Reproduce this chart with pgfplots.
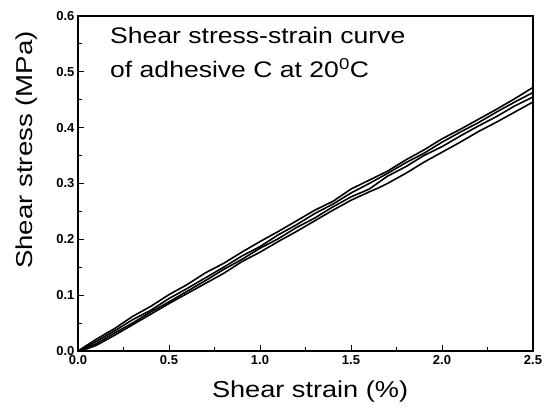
\documentclass[border=0pt]{standalone}
\usepackage{graphicx}
\usepackage{pgfplots}
\pgfplotsset{compat=1.18}
\usepackage{fontspec}
\setmainfont{Liberation Sans}
\begin{document}
\begin{tikzpicture}
\begin{axis}[
  name=ax,
  scale only axis,
  width=455pt, height=335pt,
  xmin=0, xmax=2.5, ymin=0, ymax=0.6,
  xtick={0,0.5,...,2.5}, ytick={0,0.1,...,0.6},
  minor xtick={0.25,0.75,...,2.25}, minor ytick={0.05,0.15,...,0.55},
  xtick pos=left, ytick pos=left,
  tick align=inside,
  major tick length=6pt, minor tick length=4pt,
  every tick/.style={black, line width=1pt},
  axis line style={line width=1.6pt},
  /pgf/number format/assume math mode=true,
  /pgf/number format/fixed, /pgf/number format/fixed zerofill, /pgf/number format/precision=1,
  tick label style={font=\bfseries\fontsize{13}{15}\selectfont},
  xticklabel style={yshift=-1pt},
  xlabel={\scalebox{1.18}[1]{Shear strain (\%)}}, ylabel={\scalebox{1.2}[1]{Shear stress (MPa)}},
  label style={font=\fontsize{23}{27}\selectfont},
  xlabel style={at={(axis description cs:0.51,-0.12)}, anchor=center},
  ylabel style={at={(axis description cs:-0.112,0.6)}, anchor=center},
  cycle list={{black, no markers}},
  every axis plot post/.append style={line width=1.6pt, line join=round},
]
\addplot coordinates {(0,0) (0.1,0.021) (0.2,0.040) (0.3,0.062) (0.4,0.080) (0.5,0.101) (0.6,0.119) (0.7,0.140) (0.8,0.157) (0.9,0.177) (1.0,0.196) (1.1,0.214) (1.2,0.233) (1.3,0.252) (1.4,0.268) (1.5,0.290) (1.6,0.306) (1.7,0.322) (1.8,0.342) (1.9,0.360) (2.0,0.380) (2.1,0.397) (2.2,0.415) (2.3,0.433) (2.4,0.452) (2.5,0.472)};
\addplot coordinates {(0,0) (0.1,0.017) (0.2,0.036) (0.3,0.056) (0.4,0.073) (0.5,0.094) (0.6,0.112) (0.7,0.131) (0.8,0.150) (0.9,0.170) (1.0,0.187) (1.1,0.208) (1.2,0.226) (1.3,0.246) (1.4,0.263) (1.5,0.283) (1.6,0.300) (1.7,0.318) (1.8,0.337) (1.9,0.354) (2.0,0.374) (2.1,0.392) (2.2,0.409) (2.3,0.428) (2.4,0.446) (2.5,0.463)};
\addplot coordinates {(0,0) (0.1,0.013) (0.2,0.032) (0.3,0.050) (0.4,0.070) (0.5,0.088) (0.6,0.107) (0.7,0.126) (0.8,0.146) (0.9,0.164) (1.0,0.184) (1.1,0.201) (1.2,0.221) (1.3,0.238) (1.4,0.258) (1.5,0.276) (1.6,0.290) (1.7,0.313) (1.8,0.330) (1.9,0.350) (2.0,0.366) (2.1,0.385) (2.2,0.403) (2.3,0.420) (2.4,0.439) (2.5,0.455)};
\addplot coordinates {(0,0) (0.05,0.004) (0.1,0.010) (0.2,0.028) (0.3,0.047) (0.4,0.066) (0.5,0.085) (0.6,0.103) (0.7,0.121) (0.8,0.139) (0.9,0.160) (1.0,0.177) (1.1,0.196) (1.2,0.214) (1.3,0.233) (1.4,0.252) (1.5,0.270) (1.6,0.285) (1.65,0.292) (1.7,0.300) (1.8,0.318) (1.9,0.338) (2.0,0.356) (2.1,0.374) (2.2,0.393) (2.3,0.410) (2.4,0.428) (2.5,0.446)};
\node[anchor=base west, font=\fontsize{22.5}{27}\selectfont, inner sep=0pt] at (axis cs:0.176,0.551) {\scalebox{1.18}[1]{Shear stress-strain curve}};
\node[anchor=base west, font=\fontsize{22.5}{27}\selectfont, inner sep=0pt] at (axis cs:0.176,0.490) {\scalebox{1.18}[1]{of adhesive C at 20$^{\mathrm{0}}$C}};
\end{axis}
\path ([shift={(-78pt,-59pt)}]ax.south west) rectangle ([shift={(20pt,16pt)}]ax.north east);
\end{tikzpicture}
\end{document}
